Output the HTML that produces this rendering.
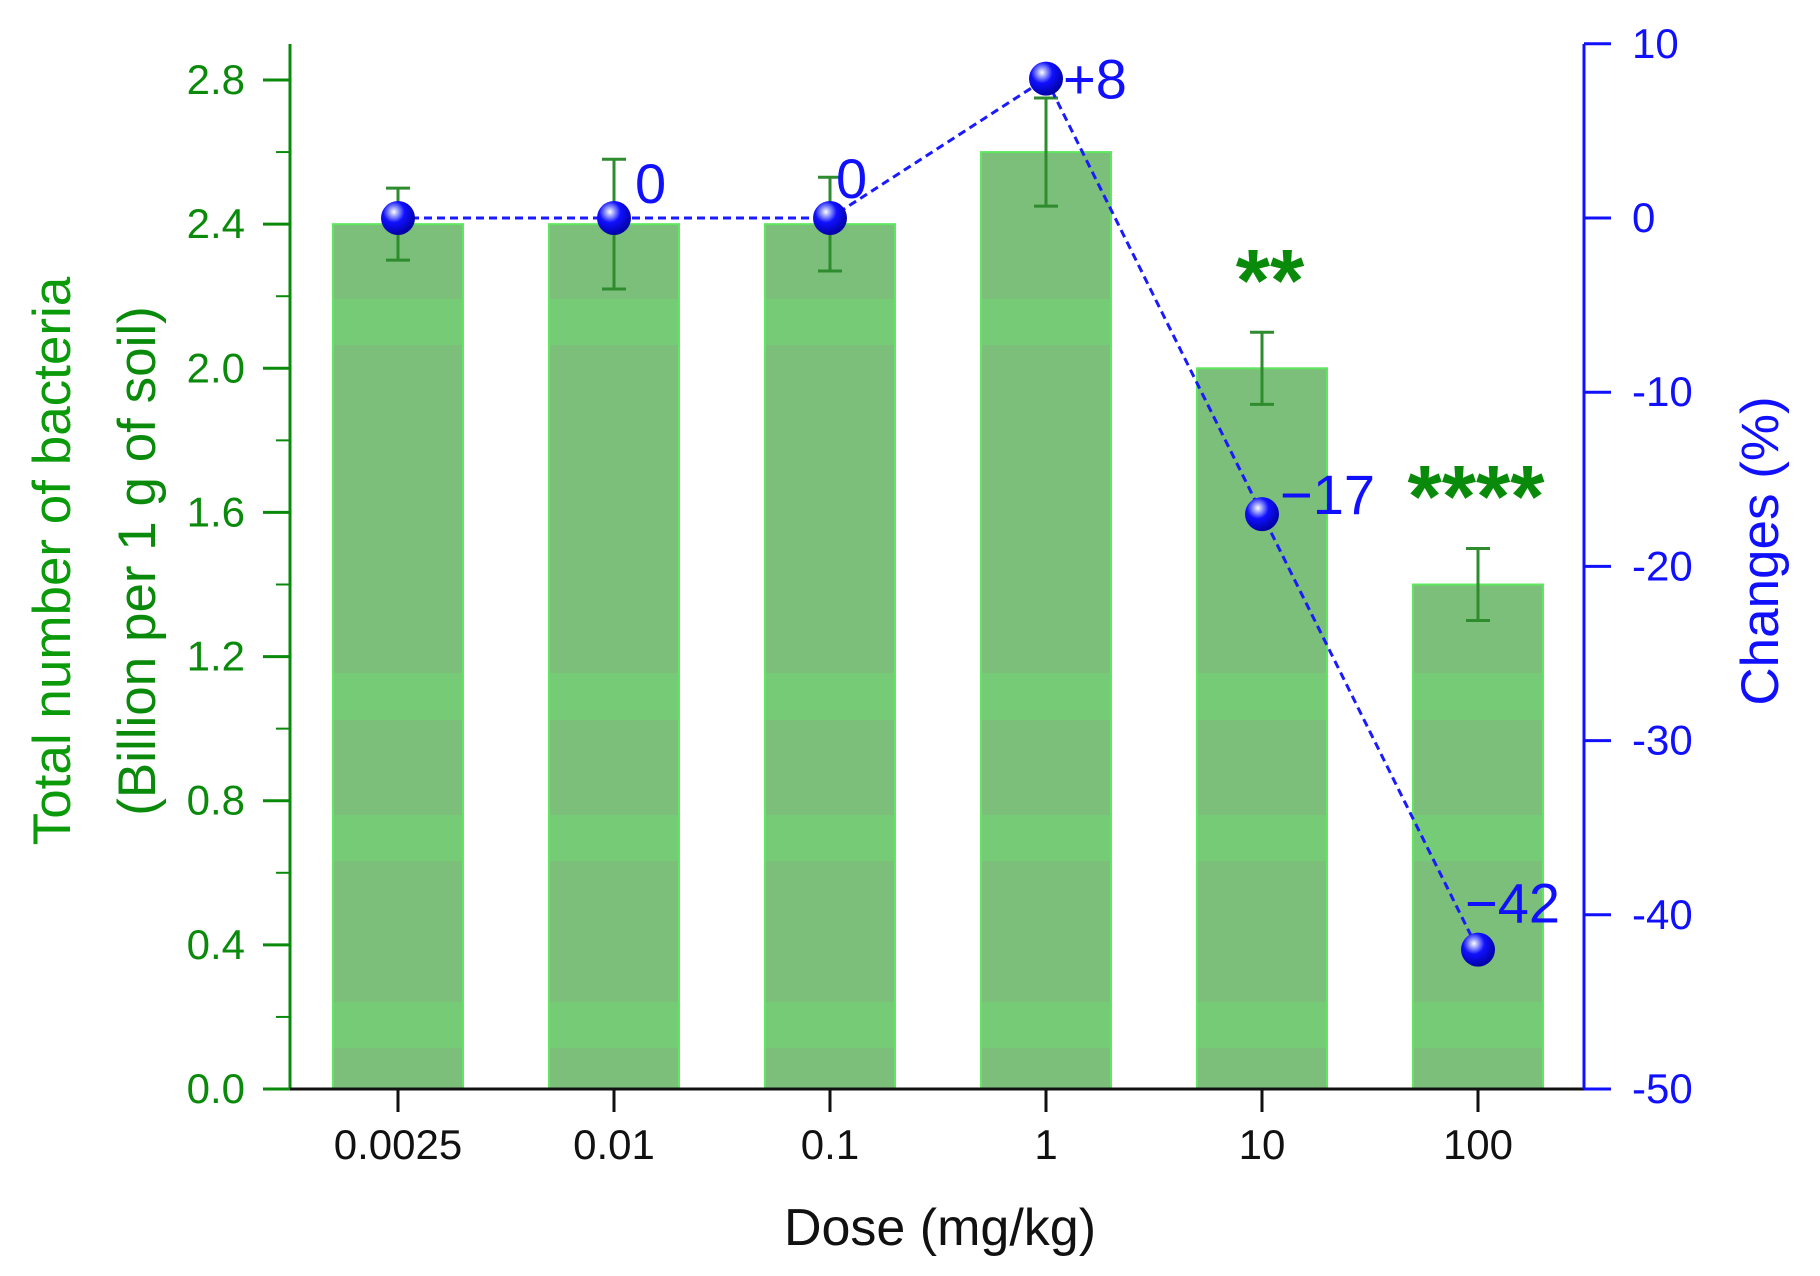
<!DOCTYPE html>
<html><head><meta charset="utf-8"><style>
html,body{margin:0;padding:0;background:#fff;}
svg{display:block;font-family:"Liberation Sans",Arial,sans-serif;}
</style></head><body>
<svg id="chart" width="1820" height="1276" viewBox="0 0 1820 1276" xmlns="http://www.w3.org/2000/svg">
<defs>
<radialGradient id="sph" cx="0.38" cy="0.32" r="0.7">
<stop offset="0" stop-color="#ffffff"/><stop offset="0.18" stop-color="#9aa0ff"/><stop offset="0.45" stop-color="#1010ff"/><stop offset="1" stop-color="#0000a0"/>
</radialGradient>
</defs>
<g id="g"></g>
</svg>
<script>
const categories = ["0.0025","0.01","0.1","1","10","100"];
const counts = [2.4, 2.4, 2.4, 2.6, 2.0, 1.4];
const errors = [0.10, 0.18, 0.13, 0.15, 0.10, 0.10];
const changes = [0, 0, 0, 8, -17, -42];
const changeLabels = ["", "0", "0", "+8", "\u221217", "\u221242"];
const stars = ["", "", "", "", "**", "****"];
const leftTicks = [0.0, 0.4, 0.8, 1.2, 1.6, 2.0, 2.4, 2.8];
const rightTicks = [10, 0, -10, -20, -30, -40, -50];

const NS = "http://www.w3.org/2000/svg";
const g = document.getElementById("g");
function el(tag, attrs, text){const e=document.createElementNS(NS,tag);for(const k in attrs)e.setAttribute(k,attrs[k]);if(text!==undefined)e.textContent=text;g.appendChild(e);return e;}

const X0=290, X1=1584, YB=1089, YT=44;
const yL = v => YB - v*(YB-80)/2.8;
const yR = v => 218 - v*(1089-218)/50;
const xC = i => 398 + i*216;
const BW = 130;

// bars
categories.forEach((c,i)=>{
  const x=xC(i)-BW/2, y=yL(counts[i]);
  const b=el("rect",{x:x,y:y,width:BW,height:YB-y,fill:"#7bbf7a",stroke:"#5fe85f","stroke-width":2});
  
  
  [[299,345],[673,720],[815,861],[1002,1048]].forEach(s=>{
    const top=Math.max(s[0],y+2);
    if(top<s[1]){const r=el("rect",{x:x+1,y:top,width:BW-2,height:s[1]-top,fill:"#76cc76"});
    
    }
  });
});
// error bars
categories.forEach((c,i)=>{
  const x=xC(i), t=yL(counts[i]+errors[i]), b=yL(counts[i]-errors[i]);
  const e=el("path",{d:`M${x},${t}V${b}M${x-12},${t}H${x+12}M${x-12},${b}H${x+12}`,stroke:"#2e8b2e","stroke-width":3,fill:"none"});
  
  
  if(stars[i]){
    const s=el("text",{x:x+(i==4?8:-2),y:yL(counts[i]+errors[i])-22,"text-anchor":"middle","font-size":88,"font-weight":"bold",fill:"#0a8a0a"},stars[i]);
    
    
  }
});
// axes
let a=el("path",{d:`M${X0},${YT}V${YB}`,stroke:"#0a8a0a","stroke-width":3});


a=el("path",{d:`M${X0},${YB}H${X1}`,stroke:"#111","stroke-width":3});


a=el("path",{d:`M${X1},${YT}V${YB}`,stroke:"#1010ff","stroke-width":3});


leftTicks.forEach(v=>{
  const y=yL(v);
  const t=el("path",{d:`M${X0-27},${y}H${X0}`,stroke:"#0a8a0a","stroke-width":3});
  
  
  if(v<2.8){const m=el("path",{d:`M${X0-14},${yL(v+0.2)}H${X0}`,stroke:"#0a8a0a","stroke-width":2});
  
  }
  const l=el("text",{x:245,y:y+14,"text-anchor":"end","font-size":42,fill:"#0a8a0a"},v.toFixed(1));
  
  
});
rightTicks.forEach(v=>{
  const y=yR(v);
  const t=el("path",{d:`M${X1},${y}H${X1+27}`,stroke:"#1010ff","stroke-width":3});
  
  
  const l=el("text",{x:1632,y:y+14,"font-size":42,fill:"#1010ff"},String(v));
  
  
});
categories.forEach((c,i)=>{
  const t=el("path",{d:`M${xC(i)},${YB}V${YB+23}`,stroke:"#111","stroke-width":3});
  
  
  const l=el("text",{x:xC(i),y:1159,"text-anchor":"middle","font-size":42,fill:"#111"},c);
  
  
});
// titles
let t=el("text",{x:940,y:1245,"text-anchor":"middle","font-size":52,fill:"#111"},"Dose (mg/kg)");


t=el("text",{x:0,y:0,"text-anchor":"middle","font-size":53,fill:"#0a9a0a",transform:"translate(70,561) rotate(-90)"},"Total number of bacteria");


t=el("text",{x:0,y:0,"text-anchor":"middle","font-size":53,fill:"#0a8a0a",transform:"translate(155,561) rotate(-90)"},"(Billion per 1 g of soil)");


t=el("text",{x:0,y:0,"text-anchor":"middle","font-size":53,fill:"#1010ff",transform:"translate(1778,551) rotate(-90)"},"Changes (%)");


// line
const pts=changes.map((v,i)=>xC(i)+","+yR(v)).join(" ");
const ln=el("polyline",{points:pts,fill:"none",stroke:"#1a1aff","stroke-width":3,"stroke-dasharray":"8,5"});


const offs=[[0,0],[21,-15],[6,-20],[17,20],[18,0],[-13,-27]];
changes.forEach((v,i)=>{
  const p=el("circle",{cx:xC(i),cy:yR(v),r:17,fill:"url(#sph)"});
  
  
  if(changeLabels[i]){
    const l=el("text",{x:xC(i)+offs[i][0],y:yR(v)+offs[i][1],"font-size":56,fill:"#1010ff"},changeLabels[i]);
    
    
  }
});
</script>
</body></html>
